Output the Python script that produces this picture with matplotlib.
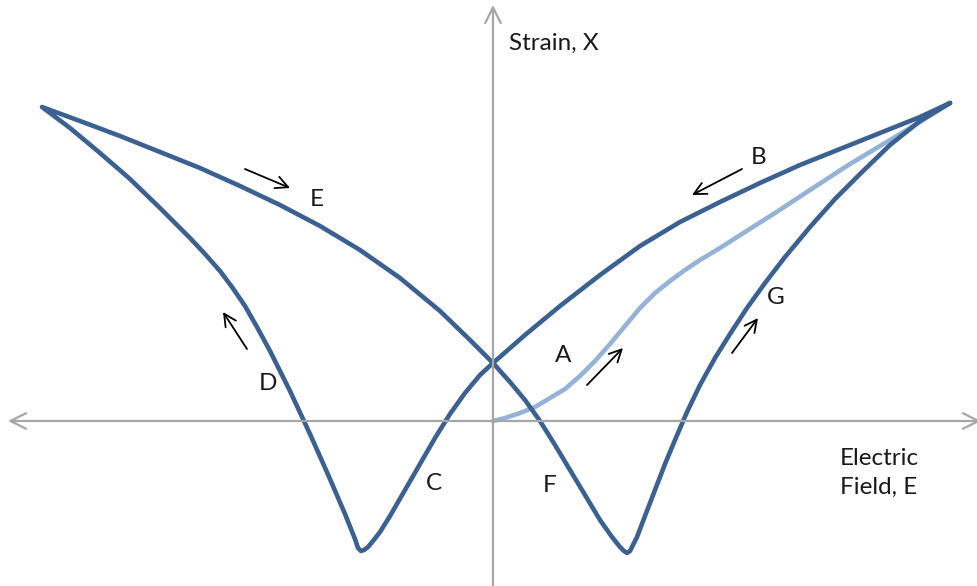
import numpy as np
import matplotlib.pyplot as plt

# butterfly loop, E = field, X = strain (arbitrary units, origin at axis crossing)
# B: right tip -> crossing, C: crossing -> left minimum, D: minimum -> left tip,
# E: left tip -> crossing, F: crossing -> right minimum, G: minimum -> right tip
loop_B_E = [457, 427, 387, 347, 307, 267, 227, 187, 147, 107, 67, 32, 0]
loop_B_X = [318, 304, 288, 272, 256, 238, 219, 199, 175, 146, 115, 86, 58]
loop_C_E = [-13, -28, -43, -58, -73, -88, -103, -113, -120, -125, -129, -132]
loop_C_X = [46, 28, 7, -17, -43, -69, -95, -111, -120, -126, -129, -130]
loop_D_E = [-135, -138, -148, -163, -183, -203, -223, -236, -248, -261, -273, -288, -303, -333, -363,
            -393, -423, -451]
loop_D_X = [-127, -118, -93, -58, -13, 30, 70, 94, 115, 134, 150, 167, 183, 213, 242, 268, 293, 314]
loop_E_E = [-413, -373, -333, -293, -253, -213, -173, -133, -93, -53, -23, 0]
loop_E_X = [300, 285, 269, 253, 235, 216, 195, 171, 143, 110, 81, 58]
loop_F_E = [17, 32, 47, 62, 77, 92, 107, 119, 127, 131, 134]
loop_F_X = [39, 21, 0, -24, -49, -74, -99, -116, -126, -130, -132]
loop_G_E = [137, 140, 144, 152, 162, 172, 182, 194, 207, 222, 237, 254, 272, 292, 317, 342, 367, 397,
            427, 457]
loop_G_X = [-130, -124, -116, -95, -69, -43, -19, 9, 36, 63, 87, 113, 138, 164, 194, 222, 247, 276,
            300, 318]

# initial poling curve A
curve_A_E = [0, 12, 27, 42, 57, 72, 87, 102, 117, 132, 147, 162, 177, 192, 207, 227, 252, 282, 317,
             357, 397, 427, 457]
curve_A_X = [0, 3, 8, 14, 23, 32, 45, 60, 77, 95, 113, 128, 140, 151, 161, 173, 189, 208, 231,
             257, 281, 299, 318]

labels = ['E', 'D', 'B', 'A', 'G', 'C', 'F']
label_E = [-176, -225, 266, 70, 283, -59, 57]
label_X = [222, 37, 263, 66, 123, -63, -64]

# direction arrows: (start E, start X, end E, end X)
arrows = [(-248, 252, -203, 233), (-246, 72, -270, 109), (249, 252, 199, 226),
          (94, 36, 130, 73), (239, 68, 265, 103)]

dark = '#3B6192'
light = '#95B3D7'
grey = '#A6A6A6'
font = ['Lato', 'DejaVu Sans']
fs = 17.5

fig = plt.figure(figsize=(9.77, 5.86), dpi=100)
ax = fig.add_axes([0, 0, 1, 1])
ax.set_xlim(-493, 484)
ax.set_ylim(-165, 421)
ax.axis('off')

# axes with arrow heads
ax.annotate('', xy=(-485, 0), xytext=(488, 0),
            arrowprops=dict(arrowstyle='<->', color=grey, lw=1.6, mutation_scale=28,
                            shrinkA=0, shrinkB=0))
ax.annotate('', xy=(0, 416), xytext=(0, -170),
            arrowprops=dict(arrowstyle='->', color=grey, lw=1.6, mutation_scale=28,
                            shrinkA=0, shrinkB=0))

loop_E_all = loop_B_E + loop_C_E + loop_D_E + loop_E_E + loop_F_E + loop_G_E
loop_X_all = loop_B_X + loop_C_X + loop_D_X + loop_E_X + loop_F_X + loop_G_X
ax.plot(curve_A_E, curve_A_X, color=light, lw=3.3, solid_capstyle='round', solid_joinstyle='round')
ax.plot(loop_E_all, loop_X_all, color=dark, lw=3.3, solid_capstyle='round', solid_joinstyle='round')

for e0, x0, e1, x1 in arrows:
    ax.annotate('', xy=(e1, x1), xytext=(e0, x0),
                arrowprops=dict(arrowstyle='->', color='black', lw=1.3, mutation_scale=22,
                                shrinkA=0, shrinkB=0))

for lab, e, x in zip(labels, label_E, label_X):
    ax.text(e, x, lab, ha='center', va='center', fontsize=fs, family=font, color='#1a1a1a')

ax.text(16, 378, 'Strain, X', ha='left', va='center', fontsize=fs, family=font, color='#1a1a1a')
ax.text(347, -52, 'Electric\nField, E', ha='left', va='center', fontsize=fs, family=font,
        color='#1a1a1a', linespacing=1.45)

fig.savefig('out.png', dpi=100)
